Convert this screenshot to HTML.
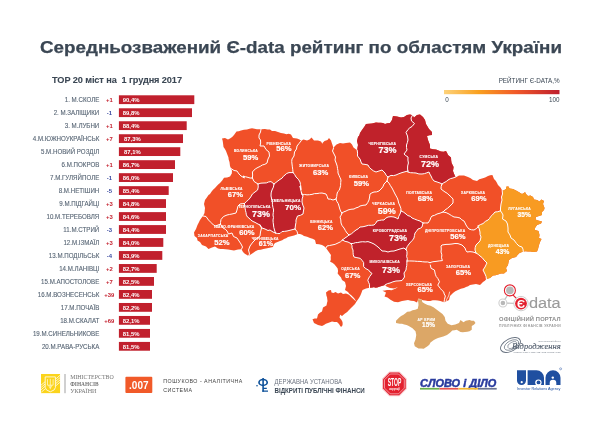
<!DOCTYPE html>
<html lang="uk"><head><meta charset="utf-8"><title>Є-data рейтинг по областям України</title>
<style>
html,body{margin:0;padding:0;background:#fff;}
body{width:600px;height:424px;overflow:hidden;font-family:"Liberation Sans",sans-serif;}
svg{display:block;position:absolute;left:0;top:0;}
text{font-family:"Liberation Sans",sans-serif;}
.ttl{font-weight:bold;fill:#3b4754;stroke:#3b4754;stroke-width:0.25px;}
.lab{fill:#586675;font-size:7.1px;text-anchor:end;stroke:#586675;stroke-width:0.12px;}
.val{fill:#fff;font-weight:bold;font-size:5.9px;}
.up{fill:#c4202e;font-size:5.9px;font-weight:bold;text-anchor:middle;}
.dn{fill:#3a4aa0;font-size:5.9px;font-weight:bold;text-anchor:middle;}
.rn{fill:#fff;font-weight:bold;text-anchor:end;stroke:#fff;stroke-width:0.1px;}
.rp{fill:#fff;font-weight:bold;text-anchor:end;stroke:#fff;stroke-width:0.2px;}
.bd{fill:none;stroke:#fff;stroke-width:1;stroke-linejoin:round;stroke-linecap:round;}
</style></head><body>
<svg width="600" height="424" viewBox="0 0 600 424">
<defs><linearGradient id="lg" x1="0" x2="1" y1="0" y2="0">
<stop offset="0" stop-color="#fdd27a"/><stop offset="0.3" stop-color="#f9a01f"/><stop offset="0.62" stop-color="#f15a29"/><stop offset="1" stop-color="#be1e2d"/></linearGradient></defs>
<rect width="600" height="424" fill="#fff"/>

<text class="ttl" x="40" y="53.2" font-size="16.9" textLength="522" lengthAdjust="spacingAndGlyphs">Середньозважений Є-data рейтинг по областям України</text>
<text class="ttl" style="stroke-width:0.08px" x="52" y="82.8" font-size="9.2" textLength="130" lengthAdjust="spacing" xml:space="preserve">TOP 20 міст на  1 грудня 2017</text>
<rect x="118.9" y="95.30" width="75.4" height="8.8" fill="#c1202d"/>
<text class="lab" transform="translate(99.3 102.10) scale(0.87 1)">1. М.СКОЛЕ</text>
<text class="up" x="109.3" y="101.90">+1</text>
<text class="val" x="122.7" y="102.00">90,4%</text>
<rect x="118.9" y="108.28" width="73.1" height="8.8" fill="#c1202d"/>
<text class="lab" transform="translate(99.3 115.08) scale(0.87 1)">2. М.ЗАЛІЩИКИ</text>
<text class="dn" x="109.3" y="114.88">-1</text>
<text class="val" x="122.7" y="114.98">89,8%</text>
<rect x="118.9" y="121.26" width="67.8" height="8.8" fill="#c1202d"/>
<text class="lab" transform="translate(99.3 128.06) scale(0.87 1)">3. М.ЛУБНИ</text>
<text class="up" x="109.3" y="127.86">+1</text>
<text class="val" x="122.7" y="127.96">88,4%</text>
<rect x="118.9" y="134.24" width="64.1" height="8.8" fill="#c1202d"/>
<text class="lab" transform="translate(99.3 141.04) scale(0.87 1)">4.М.ЮЖНОУКРАЇНСЬК</text>
<text class="up" x="109.3" y="140.84">+7</text>
<text class="val" x="124" y="140.94">87,3%</text>
<rect x="118.9" y="147.22" width="61.4" height="8.8" fill="#c1202d"/>
<text class="lab" transform="translate(99.3 154.02) scale(0.87 1)">5.М.НОВИЙ РОЗДІЛ</text>
<text class="val" x="124" y="153.92">87,1%</text>
<rect x="118.9" y="160.20" width="56.1" height="8.8" fill="#c1202d"/>
<text class="lab" transform="translate(99.3 167.00) scale(0.87 1)">6.М.ПОКРОВ</text>
<text class="up" x="109.3" y="166.80">+1</text>
<text class="val" x="122.7" y="166.90">86,7%</text>
<rect x="118.9" y="173.18" width="54.1" height="8.8" fill="#c1202d"/>
<text class="lab" transform="translate(99.3 179.98) scale(0.87 1)">7.М.ГУЛЯЙПОЛЕ</text>
<text class="dn" x="109.3" y="179.78">-1</text>
<text class="val" x="122.7" y="179.88">86,0%</text>
<rect x="118.9" y="186.16" width="49.8" height="8.8" fill="#c1202d"/>
<text class="lab" transform="translate(99.3 192.96) scale(0.87 1)">8.М.НЕТІШИН</text>
<text class="dn" x="109.3" y="192.76">-5</text>
<text class="val" x="122.7" y="192.86">85,4%</text>
<rect x="118.9" y="199.14" width="47.1" height="8.8" fill="#c1202d"/>
<text class="lab" transform="translate(99.3 205.94) scale(0.87 1)">9.М.ПІДГАЙЦІ</text>
<text class="up" x="109.3" y="205.74">+3</text>
<text class="val" x="122.7" y="205.84">84,8%</text>
<rect x="118.9" y="212.12" width="47.1" height="8.8" fill="#c1202d"/>
<text class="lab" transform="translate(99.3 218.92) scale(0.87 1)">10.М.ТЕРЕБОВЛЯ</text>
<text class="up" x="109.3" y="218.72">+3</text>
<text class="val" x="122.7" y="218.82">84,6%</text>
<rect x="118.9" y="225.10" width="47.1" height="8.8" fill="#c1202d"/>
<text class="lab" transform="translate(99.3 231.90) scale(0.87 1)">11.М.СТРИЙ</text>
<text class="dn" x="109.3" y="231.70">-3</text>
<text class="val" x="122.7" y="231.80">84,4%</text>
<rect x="118.9" y="238.08" width="44.4" height="8.8" fill="#c1202d"/>
<text class="lab" transform="translate(99.3 244.88) scale(0.87 1)">12.М.ІЗМАЇЛ</text>
<text class="up" x="109.3" y="244.68">+3</text>
<text class="val" x="122.7" y="244.78">84,0%</text>
<rect x="118.9" y="251.06" width="43.4" height="8.8" fill="#c1202d"/>
<text class="lab" transform="translate(99.3 257.86) scale(0.87 1)">13.М.ПОДІЛЬСЬК</text>
<text class="dn" x="109.3" y="257.66">-4</text>
<text class="val" x="122.7" y="257.76">83,9%</text>
<rect x="118.9" y="264.04" width="37.8" height="8.8" fill="#c1202d"/>
<text class="lab" transform="translate(99.3 270.84) scale(0.87 1)">14.М.ЛАНІВЦІ</text>
<text class="up" x="109.3" y="270.64">+2</text>
<text class="val" x="122.7" y="270.74">82,7%</text>
<rect x="118.9" y="277.02" width="35.1" height="8.8" fill="#c1202d"/>
<text class="lab" transform="translate(99.3 283.82) scale(0.87 1)">15.М.АПОСТОЛОВЕ</text>
<text class="up" x="109.3" y="283.62">+7</text>
<text class="val" x="122.7" y="283.72">82,5%</text>
<rect x="118.9" y="290.00" width="33.1" height="8.8" fill="#c1202d"/>
<text class="lab" transform="translate(99.3 296.80) scale(0.87 1)">16.М.ВОЗНЕСЕНСЬК</text>
<text class="up" x="109.3" y="296.60">+39</text>
<text class="val" x="122.7" y="296.70">82,4%</text>
<rect x="118.9" y="302.98" width="33.1" height="8.8" fill="#c1202d"/>
<text class="lab" transform="translate(99.3 309.78) scale(0.87 1)">17.М.ПОЧАЇВ</text>
<text class="val" x="122.7" y="309.68">82,2%</text>
<rect x="118.9" y="315.96" width="31.1" height="8.8" fill="#c1202d"/>
<text class="lab" transform="translate(99.3 322.76) scale(0.87 1)">18.М.СКАЛАТ</text>
<text class="up" x="109.3" y="322.56">+69</text>
<text class="val" x="122.7" y="322.66">82,1%</text>
<rect x="118.9" y="328.94" width="31.1" height="8.8" fill="#c1202d"/>
<text class="lab" transform="translate(99.3 335.74) scale(0.87 1)">19.М.СИНЕЛЬНИКОВЕ</text>
<text class="val" x="122.7" y="335.64">81,5%</text>
<rect x="118.9" y="341.92" width="31.1" height="8.8" fill="#c1202d"/>
<text class="lab" transform="translate(99.3 348.72) scale(0.87 1)">20.М.РАВА-РУСЬКА</text>
<text class="val" x="122.7" y="348.62">81,5%</text>
<text x="559.5" y="83" font-size="6.3" fill="#3b4754" text-anchor="end">РЕЙТИНГ Є-DATA,%</text>
<rect x="444" y="90" width="115.5" height="4.2" fill="url(#lg)"/>
<text x="445.3" y="102.2" font-size="6.3" fill="#3b4754">0</text>
<text x="559.5" y="102.2" font-size="6.3" fill="#3b4754" text-anchor="end">100</text>
<g id="map">
<polygon points="222,138.5 225,138 228,139.5 230,138.5 232.16,136.94 234,135 236.5,131.5 238.78,131.15 241,130.5 243.94,129.64 247,129.5 249.47,128.72 252,128.2 254.51,128.67 257,129.2 261,129.2 261,129.2 265,129 267.47,129.52 270,129.5 272,131 275.07,131.11 278,132 280.94,132.98 284,133.5 286.29,134.16 288.72,133.8 291,134.5 293,138 297,138.5 299.5,139.5 301.2,140.8 301.2,140.8 303.5,139.5 307,140.5 309.5,139.5 311.5,137.5 314,140.5 318,140.5 321,141.5 322.5,144 322.5,143 324.5,141 327.5,140 329,138 331,140.5 331.73,142.76 332.5,145 333.5,148.2 333.5,148.2 334.5,146.5 336.5,144.5 340,143 343,143.5 346,143 350,142.5 352,144.5 353.5,147.5 355.5,149 357.2,150.2 357.2,150.2 357.53,147.59 358,145 357,141 358,137 359.38,135.19 360,133 362,130 364.5,126.5 366,124 369.01,123.85 372,123.5 376,122.5 378.32,122.84 380.67,122.84 383,123 385,124 387.44,123.22 390,123 392,120 393,116 397,116.5 401,117.5 404,117 407,115 410,114.5 412.5,115.2 412.5,115.2 414,117.5 417,115 420,114.5 423,117 425,120 426,124 427.51,126.49 429,129 432,132 432,135 429.43,135.15 427,136 428,140 428.97,142.51 430,145 430,145 430,148.6 432.96,149.34 436,149.4 438.48,150.46 441,151.4 443.54,151.64 446,151 447.11,152.94 448,155 451,157.4 451.16,160.22 451.6,163 452.61,165 453.6,167 453,171 453.94,173.52 455,176 455.6,177 455.6,177.6 459,175.6 461.5,175.46 464,175.6 468,177 470.63,178.29 473,180 477,181 479.3,179.31 482,178.4 485.14,177.56 488,176 490.16,175.34 492.4,175 494,179 495.71,180.75 496.88,182.86 498,185 500.5,187.5 502.2,190.5 502.2,190.5 503.5,190.5 506,189 506.5,186.5 508.5,186.5 509.5,188.5 513,189 516,190.5 519.5,192.5 522,194 524,193 525,192 526,194 528,196 530.5,195.5 533,197 534,199.5 537,200 539.5,201.5 541.5,199.5 544,201 543,204 544.5,208 544,210 542,212 542,215 539,216 536,217 535.5,219.5 538,220.5 542,221.5 541,223.5 537,225 535,228 535,230 538.5,231 539.5,235 539,238 541.5,239 540,242 539,245 538,249 537,251.5 533,252 530.53,251.43 528,251.5 525.65,251.23 523.3,251.5 523.3,251.5 519.5,253 517.5,255 516,257 512,258 509,260 508.48,262.5 508,265 506,268 507,271 504,273.6 500.95,273.59 498,274.4 495.53,275.14 493,275.6 490,278 486.4,279 486.4,279 484.89,280.72 483,282 480,285 476,284 473,284.51 470,285 468.17,286.34 465.99,286.98 464,288 460.88,288.64 458,290 455.33,291.21 453,293 450,296 449,300 447,301 445,302 444.01,302.19 440.33,301.01 437.84,300.44 435.3,300.18 432.74,300.28 430.28,301.01 427.74,300.99 425.25,300.51 422.91,300.2 420.77,299.23 418.55,298.5 417,302.5 414,301 410.95,300.8 408,300 405.01,300.56 402,301 398,302.2 394,301.8 390.5,299.8 387.5,297.5 384.5,296.5 385.5,294 386,292.5 382.5,290.8 384.79,290.6 387,290 389.27,289.88 391.5,290.3 394,289.2 396.14,288.36 398,287 394,288.4 390,288.1 386.5,286.6 385,285 385,285 382.53,285.86 380,286.5 377.09,287.56 374,287.8 375.35,286.83 372.46,287.53 369.49,287.66 369.49,287.66 366,288.5 362.5,290 361,294 360.13,296.07 359,298 356.5,301.5 355,304 352,307 349,310 347.21,311.99 345,313.5 342,316 340.2,314.8 340.5,311 340.26,314.29 339.5,317.5 341.5,320 342.5,322 342.67,324.3 342,326.5 340.5,326.5 339,324 337,322 334.48,321.97 332,321.5 328,323 325.86,323.72 324,325 322,326 318,325 316.01,323.97 314,323 312.5,319.2 314.71,318.58 317,318.5 318,314.5 319.81,312.75 322,311.5 323,307.5 326.5,305.5 326.93,303.23 327.5,301 327,297 326.5,296 326,292.5 328.5,290.5 331,290 331.5,292.5 333.5,293 335.5,292 338,293.5 341,292.5 343,294 346,293.5 349,294.8 352,297.8 355,300.5 356.2,301.2 354,298 351,295 349.5,294 348,292 345,290 346,286 345,282 342,280 341.01,277.61 339.26,275.58 337.66,273.43 338.04,270.91 337.66,268.4 335.97,266.32 334.31,264.21 332.4,262.65 330.13,261.7 330.81,259.52 330.67,257.23 330.96,255 326,248 324.22,246.21 322,245 319.04,244.26 316,244 315,240 312.56,238.84 310,238 307.06,236.81 304,236 302.13,234.73 300,234 297.8,234 297.8,234 294,235.5 291,236.24 288,237 286.1,238.21 284,239 282.19,240.37 280,241 277.52,242.06 275,243 273.62,244.81 273,247 270.64,247.39 268.34,248.03 266,248.5 263.33,248.99 260.71,249.72 258,250 255.41,251.35 253,253 250.71,254.43 248.5,256 248.5,256 247,255 244.79,253.79 243,252 241.5,249.2 241.5,249.2 238,249.6 234,250.5 230.98,250.12 228,249.5 225.49,249.35 223,249 220.49,248.89 218,248.5 215,246.5 212,247.5 208.5,249 206,246.5 202,245 200,242 197.5,240.5 197,238 194.5,236 194,232.5 196,229 197.5,225 198.8,222.52 200,220 202.5,216.5 203,216 203,216 204.5,213 204.73,210.5 205,208 204,204 205,200 206.85,197.57 208.5,195 210,194 211.45,191.82 213.05,189.77 215,188 216.55,186.21 218.2,184.53 220,183 222.19,180.54 224,177.8 227.09,177.57 230,176.5 231.8,173.5 232,170.8 231,168.5 231,168.5 230,166 229.5,162 228.74,159.69 228.4,157.27 227.5,155 226,151 224.91,148.9 223.5,147 223,143 222.66,140.72 222,138.5" fill="#f15028"/>
<polygon points="357.2,150.2 357.53,147.59 358,145 357,141 358,137 359.38,135.19 360,133 362,130 364.5,126.5 366,124 369.01,123.85 372,123.5 376,122.5 378.32,122.84 380.67,122.84 383,123 385,124 387.44,123.22 390,123 392,120 393,116 397,116.5 401,117.5 404,117 407,115 410,114.5 412.5,115.2 412.5,115.2 411,118 411.5,121 414.5,123.5 412,126.5 409.84,127.79 408,129.5 406,132.5 407.5,136 408,140 407.37,142.54 406.5,145 406.52,147.52 407,150 405.54,152.03 404,154 405.87,155.68 408,157 407.93,160.02 408.4,163 407.67,165.96 407.6,169 408,172 408,171 404.99,171.78 402,172.6 398.95,173.69 396,175 393.53,175.61 391,175.4 388,177 388,177 386.14,175.27 385,173 382,170 379,170.99 376,172 373.32,170.8 371,169 369.19,167.23 368,165 365.02,164.37 362,164 361,162 360,159 357.5,156 357.58,153.09 357.2,150.2" fill="#c0222b"/>
<polygon points="412.5,115.2 414,117.5 417,115 420,114.5 423,117 425,120 426,124 427.51,126.49 429,129 432,132 432,135 429.43,135.15 427,136 428,140 428.97,142.51 430,145 430,145 430,148.6 432.96,149.34 436,149.4 438.48,150.46 441,151.4 443.54,151.64 446,151 447.11,152.94 448,155 451,157.4 451.16,160.22 451.6,163 452.61,165 453.6,167 453,171 453.94,173.52 455,176 455.6,177 455.6,177 453,178 450.36,178.66 448,180 446.15,181.56 443.98,182.64 442,184 442,184 440,183 437.02,181.94 434,181 432.23,178.66 431,176 429.86,174.07 429,172 426.72,172.84 424.42,173.64 422,174 418.93,173.94 416,173 413.31,172.82 410.62,172.71 408,172 408,172 407.6,169 407.67,165.96 408.4,163 407.93,160.02 408,157 405.87,155.68 404,154 405.54,152.03 407,150 406.52,147.52 406.5,145 407.37,142.54 408,140 407.5,136 406,132.5 408,129.5 409.84,127.79 412,126.5 414.5,123.5 411.5,121 411,118 412.5,115.2" fill="#c0222b"/>
<polygon points="258,184 260.95,183.17 264,183 266.41,182.91 268.64,181.94 271,181.6 274,184 274,184 273.41,187.14 272,190 271.14,192.94 271,196 271.66,199.01 272.4,202 272.45,204.72 272.91,207.38 273.6,210 273.31,212.5 273,215 273.45,217.5 273,220 273.16,222.51 273.5,225 273.82,227.54 274.5,230 275.5,233 275.5,233 273,232 270,230 268,230.5 265,229 262,228 260,225 260,225 257,223.5 255.07,222.35 253,221.5 250.79,219.99 249,218 247.5,217 246.35,214.88 246,212.5 245.46,210.26 245,208 244.57,205.77 244.5,203.5 244.5,203.5 246.28,201.62 248.32,199.98 250,198 251.29,196.05 252.4,194 255.01,192.02 257.6,190 258.23,187.03 258,184" fill="#c0222b"/>
<polygon points="274,184 275.99,182.46 277.97,180.9 280,179.4 281.96,178.27 283.29,176.41 285,175 286.77,173.42 289,172.6 293,172.6 293,172.6 294.72,174.65 296,177 298.32,179.24 300,182 300.47,184.58 300.91,187.17 301,189.8 300,186 300.54,189.23 301.4,192.4 301.4,192.4 303,196 302.12,198.94 302,202 302.8,205.07 304,208 303.45,210.99 303,214 300.37,215.33 297.5,216 296,220 295.98,222.52 295.5,225 295,229 295,229 291,230 287,231 284.51,231.37 282,231.5 280,233.5 277.72,233.54 275.5,233 275.5,233 274.5,230 273.82,227.54 273.5,225 273.16,222.51 273,220 273.45,217.5 273,215 273.31,212.5 273.6,210 272.91,207.38 272.45,204.72 272.4,202 271.66,199.01 271,196 271.14,192.94 272,190 273.41,187.14 274,184" fill="#c0222b"/>
<polygon points="349,235 351.59,233.7 353.76,231.79 356,230 358.23,228.8 360,227 363.04,226.76 366,226 368.62,225.28 371.33,225.31 374,225 375.79,223.22 377,221 379.3,220.45 381.63,220.05 384,220 385.74,218.15 388,217 391,216.65 394,217 396.08,217.84 398,219 398.74,216.4 400,214 401,211 401,211 403.67,212.21 406,214 407.83,215.59 410.25,216.29 412,218 414.64,219.08 417.28,220.15 420,221 423,223 423,223 422,227 420.17,228.33 418,229 416.61,231.08 415,233 414.44,235.49 414,238 412.54,240.17 410.71,242.03 409,244 407.3,246.38 406,249 406,250 404,248 400,249 397,250 394,251 390.95,251.17 388,252 385.06,251.13 382,251 380.11,248.89 378,247 376.04,245.44 374,244 371.05,242.67 368,241.6 365.34,241.94 362.66,241.74 360,242 357.78,242.55 355.48,242.67 353.29,243.42 351,243.6 351,243.6 348,242 345.07,241.37 342.4,240 342.4,240 345,238 347.1,236.63 349,235" fill="#c0222b"/>
<polygon points="351,243.6 353.29,243.42 355.48,242.67 357.78,242.55 360,242 362.66,241.74 365.34,241.94 368,241.6 371.05,242.67 374,244 376.04,245.44 378,247 380.11,248.89 382,251 385.06,251.13 388,252 390.95,251.17 394,251 397,250 400,249 404,248 406,250 406,249 406.93,251.41 407,254 406.61,256.33 407.29,258.67 407,261 407,261 406.82,263.26 406.76,265.53 406.25,267.75 406,270 404,273 404.5,277 402,280.5 399.01,280.86 396,281 392.94,281.81 390,283 387.35,283.63 385,285 385,285 382.53,285.86 380,286.5 377.09,287.56 374,287.8 375.35,286.83 372.46,287.53 369.49,287.66 369.49,287.66 369.49,284.31 368.56,282.25 367.81,280.13 369.49,276.78 372,273.43 370.06,272.02 368.65,270.08 365.93,268.71 363.63,266.73 363.63,262.54 362.06,260.36 360.28,258.35 356.09,257.51 354,257 353.24,254.73 353.07,252.37 353,250 352.02,247.96 352,245.63 351,243.6" fill="#c0222b"/>
<polygon points="502.2,190.5 503.5,190.5 506,189 506.5,186.5 508.5,186.5 509.5,188.5 513,189 516,190.5 519.5,192.5 522,194 524,193 525,192 526,194 528,196 530.5,195.5 533,197 534,199.5 537,200 539.5,201.5 541.5,199.5 544,201 543,204 544.5,208 544,210 542,212 542,215 539,216 536,217 535.5,219.5 538,220.5 542,221.5 541,223.5 537,225 535,228 535,230 538.5,231 539.5,235 539,238 541.5,239 540,242 539,245 538,249 537,251.5 533,252 530.53,251.43 528,251.5 525.65,251.23 523.3,251.5 523.3,251.5 522.98,249.15 522,247 519,246 516.5,243.5 514,240 511,238 510,235 508,232 508,228 507.5,224 506,221 502.5,219 503,215 502,213 500.5,210.8 500.5,210.8 500.5,208 501,204 502,200 501.5,197 502.5,194 502.2,190.5" fill="#f89b22"/>
<polygon points="523.3,251.5 519.5,253 517.5,255 516,257 512,258 509,260 508.48,262.5 508,265 506,268 507,271 504,273.6 500.95,273.59 498,274.4 495.53,275.14 493,275.6 490,278 486.4,279 486.4,279 486.02,276.41 485,274 484.01,271.99 483,270 485,267 485.95,264.98 487,263 484,260 482.28,257.72 480,256 478.14,254.32 476,253 476,253 475,250 475.18,247.44 476,245 477.97,242.97 480,241 481,237 480.07,234.59 480,232 479.26,228.91 478,226 478,226 480.4,224.59 483,223.6 485.25,221.45 488,220 489.57,218.43 490.69,216.45 492.4,215 495,212 497.82,211.72 500.5,210.8 500.5,210.8 502,213 503,215 502.5,219 506,221 507.5,224 508,228 508,232 510,235 511,238 514,240 516.5,243.5 519,246 522,247 522.98,249.15 523.3,251.5" fill="#f89b22"/>
<polygon points="417.75,299.3 418.26,302.13 418.5,305 417.75,308.75 415.23,309.85 412.5,310.25 410,311.42 407.25,311.75 405.46,313.36 403.5,314.75 401.07,315.99 399,317.75 396,320.75 396,323 399.75,323.75 402.04,323.86 404.25,324.5 406.62,324.88 408.75,326 412.5,328.25 415.5,331.25 416.25,335 415.87,337.25 415.5,339.5 414,343.25 414.75,346.25 418.5,348.5 421.14,348.44 423.75,348.8 425.58,347.46 427.5,346.25 429.32,344.63 430.5,342.5 433.5,340.25 435.74,339.11 438,338 440.63,337.26 443.25,336.5 447,335 450,332.75 452.25,330.5 454.51,330.17 456.75,329.75 460.5,332 462.75,332.33 465,332 467.29,331.85 469.5,331.25 471.75,329.75 471.75,326 473.86,324.79 475.5,323 474,320.75 471.69,320.76 469.5,320 465.75,320.75 463.5,322.25 460.5,320 459,323 455.25,324.5 451.5,325.25 447.75,323.75 445.5,320.75 444.75,317 442.5,314 439.5,311.75 436.5,309.5 433.5,307.25 430.5,305.75 427.5,305 424.5,303.5 422.25,302 421.8,299.3" fill="#dca767"/>
<polyline class="bd" points="261,129.2 260.5,132 259,135 259,138 260.5,140 260.67,143.03 260,146 264,146 266,149.5 269,152 269.5,156 268,159 267,163 264.86,164.33 262.39,164.98 260.27,166.34 258,167.4 255.86,168.6 253.99,170.12 252.4,172 252.64,175 252.4,178"/>
<polyline class="bd" points="252.4,178 250.15,178.05 248,177.4 245.49,176.73 243,176 244.5,178 241,176 239,174 237,171 234,170.5 231,168.5"/>
<polyline class="bd" points="252.4,178 254,181.4 255.98,182.72 258,184"/>
<polyline class="bd" points="258,184 260.95,183.17 264,183 266.41,182.91 268.64,181.94 271,181.6 274,184"/>
<polyline class="bd" points="274,184 275.99,182.46 277.97,180.9 280,179.4 281.96,178.27 283.29,176.41 285,175 286.77,173.42 289,172.6 293,172.6"/>
<polyline class="bd" points="301.2,140.8 299,143.5 297,146 296.5,149 294.5,152 294,156 292,159 291.73,161.5 292,164 292.35,166.86 292.77,169.72 293,172.6"/>
<polyline class="bd" points="293,172.6 294.72,174.65 296,177 298.32,179.24 300,182 300.47,184.58 300.91,187.17 301,189.8 300,186 300.54,189.23 301.4,192.4"/>
<polyline class="bd" points="258,184 258.23,187.03 257.6,190 255.01,192.02 252.4,194 251.29,196.05 250,198 248.32,199.98 246.28,201.62 244.5,203.5"/>
<polyline class="bd" points="274,184 273.41,187.14 272,190 271.14,192.94 271,196 271.66,199.01 272.4,202 272.45,204.72 272.91,207.38 273.6,210 273.31,212.5 273,215 273.45,217.5 273,220 273.16,222.51 273.5,225 273.82,227.54 274.5,230 275.5,233"/>
<polyline class="bd" points="220.5,224.2 220.5,222.5 221,219.5 223.5,216.5 227,215 229.49,214.47 232,214 236,213 237,210 238,206 240,204 242.24,203.65 244.5,203.5"/>
<polyline class="bd" points="220.5,224.2 217.97,225.01 215.5,226 213.5,225 211,222.5 208.5,220 206,216.5 203,216"/>
<polyline class="bd" points="241.5,249.2 242.5,247 241,244 239,241 237,238 233.5,236.5 232,233 228.5,234 227,231 225.25,229.17 223,228 221.69,226.14 220.5,224.2"/>
<polyline class="bd" points="244.5,203.5 244.57,205.77 245,208 245.46,210.26 246,212.5 246.35,214.88 247.5,217 249,218 250.79,219.99 253,221.5 255.07,222.35 257,223.5 260,225"/>
<polyline class="bd" points="260,225 261.5,228 260.5,232 260,236 258.06,237.58 256,239 253,242 251.47,243.97 250,246 248.5,250 249.5,254 248.5,256"/>
<polyline class="bd" points="260,225 262,228 265,229 268,230.5 270,230 273,232 275.5,233"/>
<polyline class="bd" points="275.5,233 277.72,233.54 280,233.5 282,231.5 284.51,231.37 287,231 291,230 295,229"/>
<polyline class="bd" points="295,229 295.5,225 295.98,222.52 296,220 297.5,216 300.37,215.33 303,214 303.45,210.99 304,208 302.8,205.07 302,202 302.12,198.94 303,196 301.4,192.4"/>
<polyline class="bd" points="295,229 297,231.5 297.8,234"/>
<polyline class="bd" points="301.4,192.4 302,195 304.48,194.48 307.01,194.86 309.51,194.7 312,194.4 314.44,193.64 316.98,193.57 319.47,193.16 322,193 326,194 327.21,196.42 328,199 330.56,199.18 333,200 336,199"/>
<polyline class="bd" points="333.5,148.2 332.5,151 334,154 335.5,157 335,160 336.5,164 337.22,166.19 337.47,168.46 337.96,170.69 338,173 339.01,175.33 340.03,177.65 341,180 340.69,182.67 340.65,185.37 340,188 339.37,190.18 337.65,191.83 337,194 336.71,196.54 336,199"/>
<polyline class="bd" points="336,199 336.85,201.4 338.26,203.56 339,206 339.84,209.05 341,212 342,213"/>
<polyline class="bd" points="342,213 343.92,211.84 346.03,211.05 348,210 350.96,209.26 354,209 355.95,207.9 358.14,207.28 360,206 362.97,205.3 366,205 367.72,202.63 369,200 369.6,197.02 370,194 371.92,192.84 374,192 376.57,191.87 379,191 382,188 383.23,186.11 384,184 387,181"/>
<polyline class="bd" points="388,177 387,181"/>
<polyline class="bd" points="357.2,150.2 357.58,153.09 357.5,156 360,159 361,162 362,164 365.02,164.37 368,165 369.19,167.23 371,169 373.32,170.8 376,172 379,170.99 382,170 385,173 386.14,175.27 388,177"/>
<polyline class="bd" points="388,177 391,175.4 393.53,175.61 396,175 398.95,173.69 402,172.6 404.99,171.78 408,171"/>
<polyline class="bd" points="412.5,115.2 411,118 411.5,121 414.5,123.5 412,126.5 409.84,127.79 408,129.5 406,132.5 407.5,136 408,140 407.37,142.54 406.5,145 406.52,147.52 407,150 405.54,152.03 404,154 405.87,155.68 408,157 407.93,160.02 408.4,163 407.67,165.96 407.6,169 408,172"/>
<polyline class="bd" points="408,172 410.62,172.71 413.31,172.82 416,173 418.93,173.94 422,174 424.42,173.64 426.72,172.84 429,172 429.86,174.07 431,176 432.23,178.66 434,181 437.02,181.94 440,183 442,184"/>
<polyline class="bd" points="442,184 443.98,182.64 446.15,181.56 448,180 450.36,178.66 453,178 455.6,177"/>
<polyline class="bd" points="387,181 388.98,183.11 390.42,185.6 392,188 393.03,189.99 394.02,191.99 395,194 396.11,195.95 397.2,197.9 398,200 398.71,203.1 400,206 400.88,208.42 401,211"/>
<polyline class="bd" points="342,213 341.19,215.09 340,217 340.8,219.95 341,223 342.13,225.72 344,228 345.38,230.57 347,233 349,235"/>
<polyline class="bd" points="349,235 351.59,233.7 353.76,231.79 356,230 358.23,228.8 360,227 363.04,226.76 366,226 368.62,225.28 371.33,225.31 374,225 375.79,223.22 377,221 379.3,220.45 381.63,220.05 384,220 385.74,218.15 388,217 391,216.65 394,217 396.08,217.84 398,219 398.74,216.4 400,214 401,211"/>
<polyline class="bd" points="349,235 347.1,236.63 345,238 342.4,240"/>
<polyline class="bd" points="342.4,240 340.43,241.84 338,243 335.11,244.33 332,245 329.51,245.53 327,246 326,248"/>
<polyline class="bd" points="342.4,240 345.07,241.37 348,242 351,243.6"/>
<polyline class="bd" points="351,243.6 353.29,243.42 355.48,242.67 357.78,242.55 360,242 362.66,241.74 365.34,241.94 368,241.6 371.05,242.67 374,244 376.04,245.44 378,247 380.11,248.89 382,251 385.06,251.13 388,252 390.95,251.17 394,251 397,250 400,249 404,248 406,250"/>
<polyline class="bd" points="401,211 403.67,212.21 406,214 407.83,215.59 410.25,216.29 412,218 414.64,219.08 417.28,220.15 420,221 423,223"/>
<polyline class="bd" points="423,223 422,227 420.17,228.33 418,229 416.61,231.08 415,233 414.44,235.49 414,238 412.54,240.17 410.71,242.03 409,244 407.3,246.38 406,249"/>
<polyline class="bd" points="351,243.6 352,245.63 352.02,247.96 353,250 353.07,252.37 353.24,254.73 354,257 356.09,257.51 360.28,258.35 362.06,260.36 363.63,262.54 363.63,266.73 365.93,268.71 368.65,270.08 370.06,272.02 372,273.43 369.49,276.78 367.81,280.13 368.56,282.25 369.49,284.31 369.49,287.66"/>
<polyline class="bd" points="442,184 441.2,186.44 441,189 442.97,190.54 445,192 447.18,193.26 449,195 451.09,196.91 453,199 453,203 450,206 447.66,208.2 445,210 443,212"/>
<polyline class="bd" points="443,212 440.06,213.17 437,214 434.62,215.31 432,216 430.71,217.85 430,220 428,223 425.5,222.95 423,223"/>
<polyline class="bd" points="443,212 446.13,212.61 449,214 451.45,215.58 454,217 457.04,217.27 460,218 461.78,219.8 464,221 465.07,222.97 466,225 467.36,227.11 469,229 471.45,229.77 474,230 476.16,228.71 478,227"/>
<polyline class="bd" points="478,226 480.4,224.59 483,223.6 485.25,221.45 488,220 489.57,218.43 490.69,216.45 492.4,215 495,212 497.82,211.72 500.5,210.8"/>
<polyline class="bd" points="500.5,210.8 500.5,208 501,204 502,200 501.5,197 502.5,194 502.2,190.5"/>
<polyline class="bd" points="500.5,210.8 502,213 503,215 502.5,219 506,221 507.5,224 508,228 508,232 510,235 511,238 514,240 516.5,243.5 519,246 522,247 522.98,249.15 523.3,251.5"/>
<polyline class="bd" points="478,226 479.26,228.91 480,232 480.07,234.59 481,237 480,241 477.97,242.97 476,245 475.18,247.44 475,250 476,253"/>
<polyline class="bd" points="476,253 478.14,254.32 480,256 482.28,257.72 484,260 487,263 485.95,264.98 485,267 483,270 484.01,271.99 485,274 486.02,276.41 486.4,279"/>
<polyline class="bd" points="476,253 473,252 470,251.65 467,252 465.7,250.15 465,248 462,245 458,243.6 454.98,243.5 452,244 449.01,244.32 446,244.4 442,245 441,246 441.27,249 441,252 441.85,254.8 441.54,257.8 442.4,260.6 439.19,260.92 436,261.4 432.94,261.72 430,262.6"/>
<polyline class="bd" points="430,262.6 427.54,261.95 425,261.98 422.5,261.74 420,261.4 417.33,261.36 414.67,261.12 412,261 409.5,260.96 407,261"/>
<polyline class="bd" points="406,249 406.93,251.41 407,254 406.61,256.33 407.29,258.67 407,261"/>
<polyline class="bd" points="407,261 406.82,263.26 406.76,265.53 406.25,267.75 406,270 404,273 404.5,277 402,280.5 399.01,280.86 396,281 392.94,281.81 390,283 387.35,283.63 385,285"/>
<polyline class="bd" points="430.28,265 431.11,268.35 434.46,270.03 435.3,274.21 436.21,276.51 437.81,278.4 439.49,281.75 437.81,285.1 440.33,288.45 441.87,290.26 443.68,291.8 444.2,294.02 445.35,295.99 444.51,299.34 444.01,302.19"/>
<polyline class="bd" style="stroke-width:0.7" points="449.6,292 448.6,296 446.6,299.5 446,302"/>
</g>
<text class="rn" x="233.9" y="151.9" font-size="3.4" textLength="23.8" lengthAdjust="spacing" style="text-anchor:start">ВОЛИНСЬКА</text>
<text class="rp" x="258.3" y="159.9" font-size="7.6">59%</text>
<text class="rn" x="266.6" y="144.5" font-size="3.4" textLength="24.4" lengthAdjust="spacing" style="text-anchor:start">РІВНЕНСЬКА</text>
<text class="rp" x="291.4" y="151" font-size="7.6">56%</text>
<text class="rn" x="299.3" y="167.2" font-size="3.4" textLength="29.7" lengthAdjust="spacing" style="text-anchor:start">ЖИТОМИРСЬКА</text>
<text class="rp" x="328.3" y="175.4" font-size="7.6">63%</text>
<text class="rn" x="349.1" y="177.6" font-size="3.4" textLength="18.9" lengthAdjust="spacing" style="text-anchor:start">КИЇВСЬКА</text>
<text class="rp" x="369" y="185.6" font-size="7.6">59%</text>
<text class="rn" x="368.6" y="145.0" font-size="3.4" textLength="27.4" lengthAdjust="spacing" style="text-anchor:start">ЧЕРНІГІВСЬКА</text>
<text class="rp" x="396.4" y="153" font-size="9">73%</text>
<text class="rn" x="419.5" y="157.8" font-size="3.4" textLength="18.5" lengthAdjust="spacing" style="text-anchor:start">СУМСЬКА</text>
<text class="rp" x="439" y="166.6" font-size="9">72%</text>
<text class="rn" x="220.5" y="189.6" font-size="3.4" textLength="21.9" lengthAdjust="spacing" style="text-anchor:start">ЛЬВІВСЬКА</text>
<text class="rp" x="243" y="197" font-size="7.6">67%</text>
<text class="rn" x="238.3" y="208.2" font-size="3.4" textLength="32.1" lengthAdjust="spacing" style="text-anchor:start">ТЕРНОПІЛЬСЬКА</text>
<text class="rp" x="270" y="217" font-size="9">73%</text>
<text class="rn" x="271.2" y="202.4" font-size="3.4" textLength="29.2" lengthAdjust="spacing" style="text-anchor:start">ХМЕЛЬНИЦЬКА</text>
<text class="rp" x="301" y="210" font-size="8">70%</text>
<text class="rn" x="214.3" y="227.8" font-size="3.4" textLength="40.0" lengthAdjust="spacing" style="text-anchor:start">ІВАНО-ФРАНКІВСЬКА</text>
<text class="rp" x="254.4" y="235" font-size="7.6">60%</text>
<text class="rn" x="197.8" y="237.2" font-size="3.4" textLength="30.4" lengthAdjust="spacing" style="text-anchor:start">ЗАКАРПАТСЬКА</text>
<text class="rp" x="229.5" y="245" font-size="7.6">52%</text>
<text class="rn" x="251.7" y="239.9" font-size="3.4" textLength="26.8" lengthAdjust="spacing" style="text-anchor:start">ЧЕРНІВЕЦЬКА</text>
<text class="rp" x="273" y="246.3" font-size="7.1">61%</text>
<text class="rn" x="310.2" y="222.6" font-size="3.4" textLength="22.2" lengthAdjust="spacing" style="text-anchor:start">ВІННИЦЬКА</text>
<text class="rp" x="333" y="230" font-size="7.6">62%</text>
<text class="rn" x="372.1" y="204.8" font-size="3.4" textLength="22.9" lengthAdjust="spacing" style="text-anchor:start">ЧЕРКАСЬКА</text>
<text class="rp" x="395.8" y="213.6" font-size="9">59%</text>
<text class="rn" x="372.7" y="231.6" font-size="3.4" textLength="34.3" lengthAdjust="spacing" style="text-anchor:start">КІРОВОГРАДСЬКА</text>
<text class="rp" x="407" y="240.6" font-size="9">73%</text>
<text class="rn" x="369.5" y="263.2" font-size="3.4" textLength="30.1" lengthAdjust="spacing" style="text-anchor:start">МИКОЛАЇВСЬКА</text>
<text class="rp" x="400" y="273" font-size="9">73%</text>
<text class="rn" x="341.2" y="269.8" font-size="3.4" textLength="18.4" lengthAdjust="spacing" style="text-anchor:start">ОДЕСЬКА</text>
<text class="rp" x="360.4" y="277.6" font-size="7.7">67%</text>
<text class="rn" x="406.0" y="285.5" font-size="3.4" textLength="26.0" lengthAdjust="spacing" style="text-anchor:start">ХЕРСОНСЬКА</text>
<text class="rp" x="432.8" y="292" font-size="7.6">65%</text>
<text class="rn" x="445.9" y="267.8" font-size="3.4" textLength="24.1" lengthAdjust="spacing" style="text-anchor:start">ЗАПОРІЗЬКА</text>
<text class="rp" x="471" y="275" font-size="7.6">65%</text>
<text class="rn" x="424.9" y="232.2" font-size="3.4" textLength="40.2" lengthAdjust="spacing" style="text-anchor:start">ДНІПРОПЕТРОВСЬКА</text>
<text class="rp" x="465.4" y="239.4" font-size="7.6">56%</text>
<text class="rn" x="406.3" y="193.8" font-size="3.4" textLength="25.7" lengthAdjust="spacing" style="text-anchor:start">ПОЛТАВСЬКА</text>
<text class="rp" x="433" y="201" font-size="7.6">68%</text>
<text class="rn" x="461.1" y="193.6" font-size="3.4" textLength="23.9" lengthAdjust="spacing" style="text-anchor:start">ХАРКІВСЬКА</text>
<text class="rp" x="486.4" y="201.4" font-size="7.6">69%</text>
<text class="rn" x="508.2" y="209.6" font-size="3.4" textLength="22.6" lengthAdjust="spacing" style="text-anchor:start">ЛУГАНСЬКА</text>
<text class="rp" x="530.8" y="216.6" font-size="6.6">35%</text>
<text class="rn" x="487.9" y="246.6" font-size="3.4" textLength="21.1" lengthAdjust="spacing" style="text-anchor:start">ДОНЕЦЬКА</text>
<text class="rp" x="509.4" y="253.6" font-size="6.8">43%</text>
<text class="rn" x="417.4" y="321.0" font-size="3.4" textLength="17.8" lengthAdjust="spacing" style="text-anchor:start">АР КРИМ</text>
<text class="rp" x="434.9" y="327.2" font-size="6.4">15%</text>
<g id="minfin">
<rect x="41" y="374" width="19.050" height="19.150" fill="#fbd41c"/>
<g stroke="#fff" stroke-width="0.800" opacity="0.920">
<line x1="55.400" y1="379.300" x2="60.050" y2="375.300"/><line x1="55.400" y1="381.600" x2="60.050" y2="377.600"/><line x1="55.400" y1="383.900" x2="60.050" y2="379.900"/><line x1="55.400" y1="386.200" x2="60.050" y2="382.200"/>
<line x1="45.200" y1="381.600" x2="41" y2="385.200"/><line x1="45.200" y1="383.900" x2="41" y2="387.500"/><line x1="45.200" y1="386.200" x2="41" y2="389.800"/><line x1="45.600" y1="388.500" x2="41.300" y2="392.200"/>
</g>
<path d="M45.200 376.900h10.200v10.600q0 2.700 -5.100 4.300q-5.100 -1.600 -5.100 -4.300z" fill="#fbd41c" stroke="#fff" stroke-width="0.800"/>
<path d="M47.500 379.200v6h5.600v-6M50.300 378.800v10.400M48.800 385.200q0.300 1.900 1.500 2.900q1.200 -1 1.500 -2.900" fill="none" stroke="#fff4b8" stroke-width="0.900"/>
<rect x="64.300" y="374" width="1.400" height="19.2" fill="#bcbcbc"/>
<text x="70.2" y="379.300" font-family="'Liberation Serif',serif" font-size="6.500" fill="#747474" textLength="43.500" lengthAdjust="spacingAndGlyphs" style="font-family:'Liberation Serif',serif">МІНІСТЕРСТВО</text>
<text x="70.2" y="386" font-family="'Liberation Serif',serif" font-size="6.500" font-weight="bold" fill="#747474" textLength="28.500" lengthAdjust="spacingAndGlyphs" style="font-family:'Liberation Serif',serif">ФІНАНСІВ</text>
<text x="70.2" y="392.800" font-family="'Liberation Serif',serif" font-size="6.500" fill="#747474" textLength="26.300" lengthAdjust="spacingAndGlyphs" style="font-family:'Liberation Serif',serif">УКРАЇНИ</text>
</g>
<g id="s007">
<rect x="125.400" y="376.700" width="26.900" height="16.300" rx="1" fill="#f15a29"/>
<text x="138.800" y="388.900" font-size="10" font-weight="bold" fill="#fff" text-anchor="middle">.007</text>
<text x="163.300" y="382.900" font-size="5.300" fill="#404040" textLength="79.100" lengthAdjust="spacing">ПОШУКОВО - АНАЛІТИЧНА</text>
<text x="163.300" y="392" font-size="5.300" fill="#404040" textLength="28.700" lengthAdjust="spacing">СИСТЕМА</text>
</g>
<g id="vpf">
<g fill="none" stroke="#0f529a">
<ellipse cx="263.1" cy="382.4" rx="4.1" ry="2.9" stroke-width="1.65"/>
<path d="M263.1 377.9V391.7" stroke-width="1.6"/>
<path d="M262.3 391.1H268M263 388.3H266.8" stroke-width="1.3"/>
</g>
<circle cx="257" cy="385.700" r="0.800" fill="#0f529a"/>
<text x="274.500" y="384.300" font-size="6.800" fill="#6d7480" textLength="67.500" lengthAdjust="spacingAndGlyphs">ДЕРЖАВНА УСТАНОВА</text>
<text x="274.500" y="392.500" font-size="6.800" font-weight="bold" fill="#3b4754" textLength="90.300" lengthAdjust="spacingAndGlyphs">ВІДКРИТІ ПУБЛІЧНІ ФІНАНСИ</text>
</g>
<g id="stop">
<polygon points="389.260,371.500 399.540,371.500 406.800,378.760 406.800,389.040 399.540,396.300 389.260,396.300 382,389.040 382,378.760" fill="#f7c9cc"/>
<polygon points="389.700,372.600 399.100,372.600 405.700,379.200 405.700,388.600 399.100,395.200 389.700,395.200 383.100,388.600 383.100,379.200" fill="#e3212f"/>
<polygon points="390.250,374 398.550,374 404.300,379.750 404.300,388.050 398.550,393.800 390.250,393.800 384.500,388.050 384.500,379.750" fill="none" stroke="#fff" stroke-width="0.500"/>
<text x="394.500" y="386" font-size="10.400" font-weight="bold" fill="#fff" text-anchor="middle" textLength="13.600" lengthAdjust="spacingAndGlyphs">STOP</text>
<text x="394.500" y="390.300" font-size="3.200" font-weight="bold" fill="#fff" text-anchor="middle" textLength="10.500" lengthAdjust="spacingAndGlyphs">корупції</text>
</g>
<g id="slovo">
<text x="420" y="386.600" font-size="10.200" font-weight="bold" font-style="italic" fill="#2a3b9e" stroke="#2a3b9e" stroke-width="0.45" textLength="76.300" lengthAdjust="spacingAndGlyphs">СЛОВО і ДІЛО</text>
<rect x="420" y="387.900" width="19.500" height="1.700" fill="#6ab04c"/>
<rect x="439.500" y="387.9" width="19" height="1.7" fill="#e8534f"/>
<rect x="458.500" y="387.9" width="19.5" height="1.7" fill="#f5b932"/>
<rect x="478" y="387.9" width="18.7" height="1.7" fill="#6b7391"/>
</g>
<g id="ira" fill="#1f4fa0">
<path d="M517 370.200h9v10.300a4.500 4.500 0 0 1 -9 0z"/>
<circle cx="521.700" cy="382.200" r="1.100" fill="#fff"/>
<path d="M527.6 370.2h8.9a7.5 7.5 0 0 1 7.5 7.5v7.3h-16.4z"/>
<circle cx="538.4" cy="382.6" r="3.2" fill="#fff"/>
<circle cx="538.500" cy="382.400" r="1.900"/>
<path d="M545.500 385v-7.300a7.500 7.500 0 0 1 15 0v7.300h-4.200v-2a3.300 3.300 0 0 0 -6.600 0v2z"/>
<circle cx="552.800" cy="377.600" r="1.200" fill="#fff"/>
<circle cx="560.6" cy="368.8" r="1" fill="none" stroke="#1f4fa0" stroke-width="0.45"/>
<text x="517" y="389.900" font-size="4" textLength="43.500" lengthAdjust="spacingAndGlyphs">Investor Relations Agency</text>
</g>
<g id="edata">
<g stroke="#c4c4c4" stroke-width="1.300" fill="none" stroke-linecap="round">
<line x1="508" y1="294.5" x2="504.6" y2="299.8"/>
<line x1="506.5" y1="303.1" x2="514" y2="303.4"/>
</g>
<line x1="512.6" y1="294.6" x2="517" y2="299" stroke="#e3212f" stroke-width="1.100"/>
<circle cx="509.900" cy="290.400" r="5.500" fill="#fff" stroke="#e3212f" stroke-width="1.100"/>
<circle cx="509.900" cy="290.400" r="3.800" fill="#b8b8b8"/>
<circle cx="502.900" cy="303" r="4" fill="#fff" stroke="#cfcfcf" stroke-width="1.100"/>
<circle cx="502.900" cy="303" r="2.300" fill="#b8b8b8"/>
<circle cx="521" cy="303.600" r="7.200" fill="#fff" stroke="#c9c9c9" stroke-width="0.900"/>
<circle cx="521" cy="303.600" r="5.900" fill="#e3212f"/>
<text x="521" y="307.700" font-size="11.500" font-weight="bold" fill="#fff" text-anchor="middle">Є</text>
<text x="528.900" y="307.900" font-size="15.500" fill="#9b9b9b" stroke="#9b9b9b" stroke-width="0.120" textLength="31.800" lengthAdjust="spacingAndGlyphs">data</text>
<text x="499" y="320.800" font-size="5.800" font-weight="bold" fill="#8e8e8e" textLength="61.600" lengthAdjust="spacing">ОФІЦІЙНИЙ ПОРТАЛ</text>
<text x="499" y="326.800" font-size="3.400" font-weight="bold" fill="#9a9a9a" textLength="61.600" lengthAdjust="spacing">ПУБЛІЧНИХ ФІНАНСІВ УКРАЇНИ</text>
</g>
<g id="vidr">
<g fill="none" stroke="#6a7482">
<ellipse cx="510.500" cy="345" rx="10.800" ry="6.200" transform="rotate(-28 510.500 345)" stroke-width="0.900"/>
<ellipse cx="511.500" cy="345" rx="7.800" ry="4.300" transform="rotate(-28 511.500 345)" stroke-width="0.700"/>
<ellipse cx="512.300" cy="345" rx="5" ry="2.700" transform="rotate(-28 512.300 345)" stroke-width="0.600"/>
</g>
<text x="512" y="349.200" font-size="8.8" font-style="italic" fill="#566170" stroke="#566170" stroke-width="0.15" textLength="48.600" lengthAdjust="spacingAndGlyphs" style="font-family:'Liberation Serif',serif">Відродження</text>
<text x="560.600" y="342.300" font-size="2.400" fill="#7d8590" text-anchor="end" textLength="22" lengthAdjust="spacingAndGlyphs">міжнародний фонд</text>
<text x="560.600" y="352.900" font-size="2.200" fill="#7d8590" text-anchor="end" textLength="47" lengthAdjust="spacingAndGlyphs">INTERNATIONAL RENAISSANCE FOUNDATION</text>
</g>

</svg></body></html>
